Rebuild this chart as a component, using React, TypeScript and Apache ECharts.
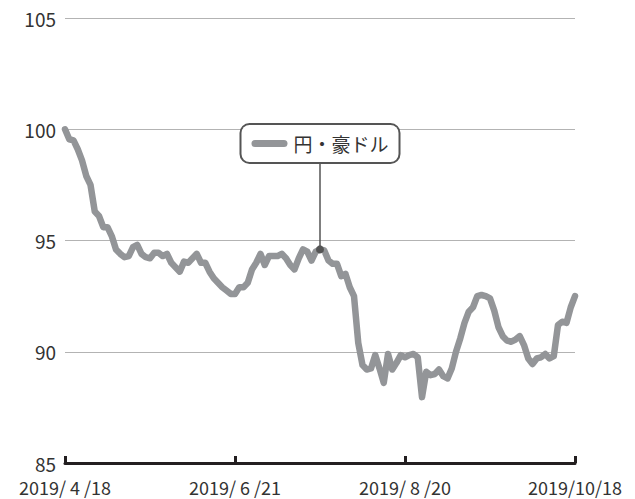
import React, { useEffect, useRef } from "react";
import * as echarts from "echarts";

// Trading-day index 0..120 (2019/4/18 .. 2019/10/18), 円・豪ドル
const values: number[] = [
  100.0, 99.55, 99.5, 99.1, 98.6, 97.9, 97.5, 96.3, 96.1, 95.6,
  95.6, 95.2, 94.6, 94.4, 94.25, 94.3, 94.7, 94.8, 94.4, 94.25,
  94.2, 94.45, 94.45, 94.3, 94.4, 94.0, 93.8, 93.6, 94.05, 94.0,
  94.2, 94.4, 94.0, 94.0, 93.6, 93.3, 93.1, 92.9, 92.75, 92.6,
  92.6, 92.9, 92.9, 93.1, 93.7, 94.0, 94.4, 93.9, 94.3, 94.3,
  94.3, 94.4, 94.2, 93.9, 93.7, 94.2, 94.6, 94.5, 94.1, 94.5,
  94.6, 94.55, 94.1, 93.95, 93.95, 93.4, 93.5, 92.9, 92.5, 90.4,
  89.4, 89.2, 89.25, 89.85, 89.25, 88.6, 89.9, 89.2, 89.5, 89.85,
  89.75, 89.85, 89.9, 89.75, 87.96, 89.1, 88.95, 89.0, 89.2, 88.9,
  88.8, 89.25, 90.0, 90.6, 91.3, 91.8, 92.0, 92.5, 92.55, 92.5,
  92.4, 91.85, 91.1, 90.7, 90.5, 90.45, 90.55, 90.7, 90.3, 89.7,
  89.45, 89.7, 89.75, 89.9, 89.7, 89.8, 91.2, 91.35, 91.3, 92.0,
  92.5,
];

const tickLabels: string[] = ["2019/ 4 /18", "2019/ 6 /21", "2019/ 8 /20", "2019/10/18"];
const tickStep = 40;
const seriesName = "円・豪ドル";
const annotIndex = 60;
const yTicks = { min: 85, max: 105, interval: 5 };

const FONT = "'Noto Sans CJK JP', 'Noto Sans', sans-serif";
const LINE_COLOR = "#939598";
const TEXT_COLOR = "#333333";

export default function App() {
  const ref = useRef<HTMLDivElement>(null);
  useEffect(() => {
    if (!ref.current) return;
    const chart = echarts.init(ref.current, undefined, { renderer: "svg" });
    const seriesData = values.map((v, i) => [i, v]);
    const annotVal = values[annotIndex];
    chart.setOption({
      animation: false,
      backgroundColor: "#ffffff",
      textStyle: { fontFamily: FONT },
      grid: { left: 65, right: 60, top: 18, bottom: 36, containLabel: false },
      xAxis: {
        type: "value",
        min: 0,
        max: tickStep * (tickLabels.length - 1),
        interval: tickStep,
        splitLine: { show: false },
        axisLine: { show: true, lineStyle: { color: "#231f20", width: 3 } },
        axisTick: { show: true, inside: true, length: 7, lineStyle: { color: "#231f20", width: 3 } },
        axisLabel: {
          show: true,
          showMinLabel: true,
          showMaxLabel: true,
          hideOverlap: false,
          margin: 15,
          fontSize: 18,
          lineHeight: 18,
          color: TEXT_COLOR,
          fontFamily: FONT,
          formatter: (v: number) => tickLabels[Math.round(v / tickStep)] ?? "",
        },
      },
      yAxis: {
        type: "value",
        min: yTicks.min,
        max: yTicks.max,
        interval: yTicks.interval,
        axisLine: { show: false },
        axisTick: { show: false },
        splitLine: { show: true, lineStyle: { color: "#b3b3b3", width: 1 } },
        axisLabel: { margin: 9, fontSize: 19, lineHeight: 19, color: TEXT_COLOR, fontFamily: FONT },
      },
      series: [
        {
          type: "line",
          name: seriesName,
          data: seriesData,
          showSymbol: false,
          symbol: "none",
          lineStyle: { color: LINE_COLOR, width: 6.5, cap: "round", join: "round" },
          z: 2,
          markLine: {
            silent: true,
            symbol: "none",
            label: { show: false },
            lineStyle: { color: "#555555", width: 1.5, type: "solid" },
            data: [[{ coord: [annotIndex, annotVal] }, { coord: [annotIndex, 98.5] }]],
          },
          markPoint: {
            silent: true,
            data: [
              {
                coord: [annotIndex, annotVal],
                symbol: "circle",
                symbolSize: 8,
                itemStyle: { color: "#555555" },
                label: { show: false },
              },
              {
                coord: [annotIndex, 99.36],
                symbol: "circle",
                symbolSize: 0,
                itemStyle: { color: "transparent" },
                label: {
                  show: true,
                  position: "inside",
                  formatter: "{bar|}{gap|}{t|" + seriesName + "}",
                  backgroundColor: "#ffffff",
                  borderColor: "#555555",
                  borderWidth: 2,
                  borderRadius: 8,
                  padding: [7, 10, 7, 10],
                  rich: {
                    bar: { width: 36, height: 7, backgroundColor: LINE_COLOR, borderRadius: 4 },
                    gap: { width: 6 },
                    t: { fontSize: 19, color: TEXT_COLOR, fontFamily: FONT, lineHeight: 23 },
                  },
                },
              },
            ],
          },
        },
      ],
    });
    return () => chart.dispose();
  }, []);
  return <div ref={ref} style={{ width: 635, height: 499, position: "fixed", left: 0, top: 0 }} />;
}
